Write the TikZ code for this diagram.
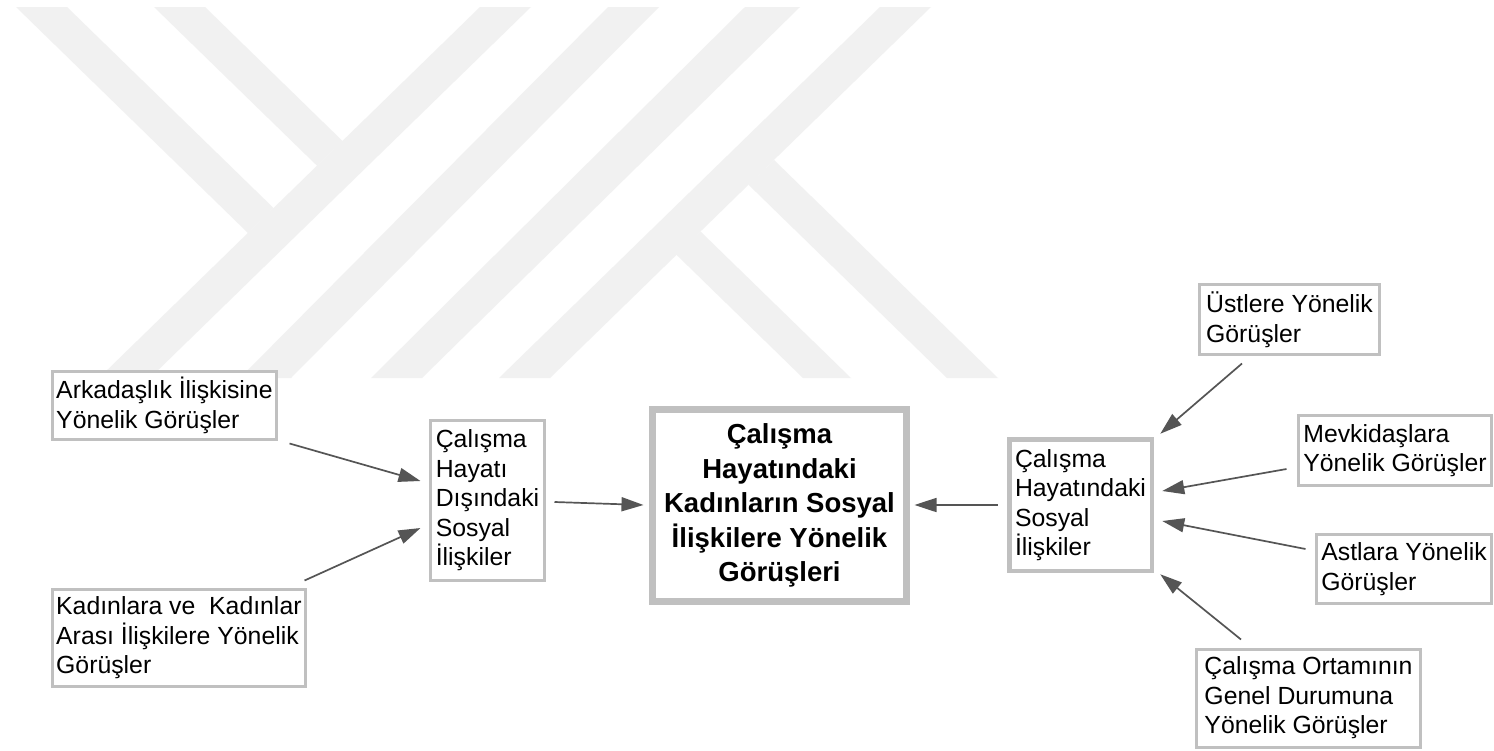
\documentclass[tikz,border=0pt]{standalone}
\usepackage{fontspec}
\setmainfont{Liberation Sans}
\newfontfamily\cbold{Liberation Sans}
\usetikzlibrary{arrows.meta,calc}
\definecolor{bordergray}{RGB}{192,192,192}
\definecolor{arrowgray}{RGB}{85,85,85}
\definecolor{wm}{RGB}{241,241,241}
\begin{document}
\begin{tikzpicture}[x=1pt,y=-1pt,
  box/.style={draw=bordergray, line width=3pt, fill=white, align=left, inner sep=0pt,
    font=\fontsize{24.8}{29.5}\selectfont},
  mainbox/.style={draw=bordergray, line width=7pt, fill=white, align=center, inner sep=0pt,
    font=\cbold\bfseries\fontsize{27.5}{34.6}\selectfont},
  conn/.style={draw=arrowgray, line width=1.7pt, -{Triangle[length=22pt,width=14pt]}},
]
\useasboundingbox (0,0) rectangle (1494,750);
\fill[white] (0,0) rectangle (1494,750);
% watermark
\fill[wm] (480,7) -- (531,7) -- (150,378) -- (99,378) -- cycle;
\fill[wm] (608,7) -- (659,7) -- (291,378) -- (240,378) -- cycle;
\fill[wm] (745,7) -- (800,7) -- (422,378) -- (371,378) -- cycle;
\fill[wm] (880,7) -- (931,7) -- (550,378) -- (499,378) -- cycle;
\fill[wm] (16,7) -- (67,7) -- (273.5,208) -- (248,233) -- cycle;
\fill[wm] (154,7) -- (205,7) -- (342.5,141) -- (317,165.7) -- cycle;
\fill[wm] (774,160) -- (998,378) -- (947,378) -- (748.5,184.7) -- cycle;
\fill[wm] (700.4,231.4) -- (851,378) -- (803,378) -- (676.5,254.8) -- cycle;
% boxes
\node[box, minimum width=224.3pt, minimum height=68pt] (A) at (164.4,405.5)
  {Arkadaşlık İlişkisine\\Yönelik Görüşler};
\node[box, minimum width=253.3pt, minimum height=97pt] (B) at (178.9,638)
  {Kadınlara ve\ \ Kadınlar\\Arası İlişkilere Yönelik\\Görüşler};
\node[box, minimum width=114pt, minimum height=160pt] (C) at (487.5,500.5)
  {Çalışma\\Hayatı\\Dışındaki\\Sosyal\\İlişkiler};
\node[mainbox, minimum width=254pt, minimum height=192pt] (M) at (779.5,505.5)
  {Çalışma\\Hayatındaki\\Kadınların Sosyal\\İlişkilere Yönelik\\Görüşleri};
\node[box, line width=4.5pt, minimum width=142.5pt, minimum height=131.5pt] (D) at (1080.5,505)
  {Çalışma\\Hayatındaki\\Sosyal\\İlişkiler};
\node[box, minimum width=180pt, minimum height=70pt] (E) at (1289.5,319.5)
  {Üstlere Yönelik\\Görüşler};
\node[box, minimum width=193pt, minimum height=70pt] (F) at (1395,450.5)
  {Mevkidaşlara\\Yönelik Görüşler};
\node[box, minimum width=175pt, minimum height=69pt] (G) at (1404,569)
  {Astlara Yönelik\\Görüşler};
\node[box, minimum width=224pt, minimum height=98pt] (H) at (1308.5,698)
  {Çalışma Ortamının\\Genel Durumuna\\Yönelik Görüşler};
% connectors
\draw[conn] ($(A.south east)+(11.5,2.5)$) -- ($(C.west)+(-8.5,-19.5)$);
\draw[conn] ($(B.north east)+(-2.5,-7.5)$) -- ($(C.west)+(-8.5,27.5)$);
\draw[conn] ($(C.east)+(8.5,1.5)$) -- ($(M.west)+(-5.5,-0.5)$);
\draw[conn] ($(D.west)+(-9.25,0)$) -- ($(M.east)+(4.5,-0.5)$);
\draw[conn] ($(E.south)+(-47.5,7.5)$) -- ($(D.north east)+(6.25,-3.25)$);
\draw[conn] ($(F.west)+(-10.5,18.5)$) -- ($(D.east)+(8.25,-14)$);
\draw[conn] ($(G.west)+(-9.5,-20)$) -- ($(D.east)+(8.25,16)$);
\draw[conn] ($(H.north)+(-67.5,-8)$) -- ($(D.south east)+(6.25,1.25)$);
\end{tikzpicture}
\end{document}
